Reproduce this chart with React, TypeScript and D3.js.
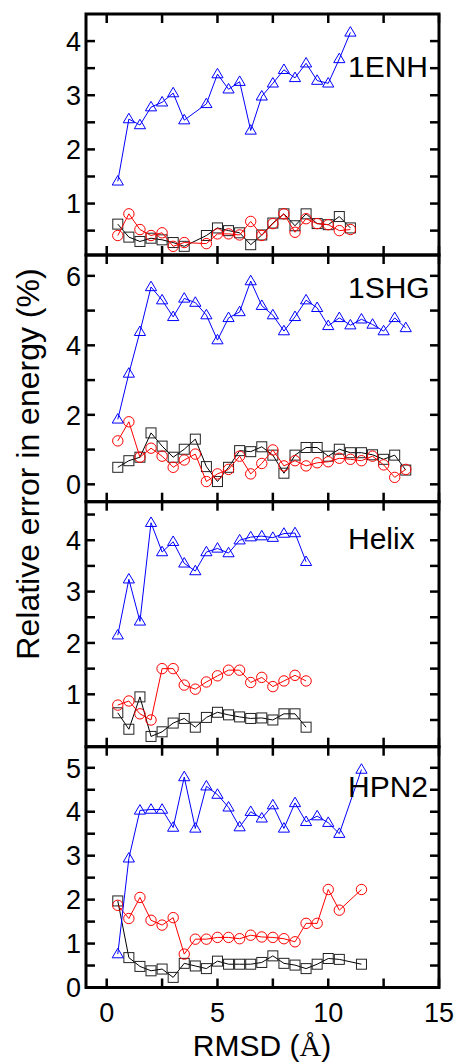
import React from 'react';
import * as d3 from 'd3';

// ---------- DATA ----------
const xTicksMajor = [0, 5, 10, 15];
const xTicksMinor = [2.5, 7.5, 12.5];

// Panel 1: 1ENH
const x1ENH = [0.5, 1, 1.5, 2, 2.5, 3, 3.5, 4.5, 5, 5.5, 6, 6.5, 7, 7.5, 8, 8.5, 9, 9.5, 10, 10.5, 11];
const tri1ENH = [1.41, 2.56, 2.45, 2.78, 2.87, 3.04, 2.54, 2.84, 3.39, 3.11, 3.25, 2.35, 2.98, 3.22, 3.47, 3.32, 3.59, 3.27, 3.22, 3.67, 4.16];
const sq1ENH = [0.62, 0.38, 0.3, 0.36, 0.33, 0.28, 0.21, 0.41, 0.55, 0.5, 0.46, 0.24, 0.42, 0.64, 0.81, 0.59, 0.81, 0.63, 0.61, 0.76, 0.55];
const cir1ENH = [0.41, 0.81, 0.52, 0.41, 0.46, 0.21, 0.28, 0.26, 0.44, 0.44, 0.42, 0.67, 0.41, 0.63, 0.81, 0.47, 0.72, 0.63, 0.61, 0.5, 0.52];

// Panel 2: 1SHG
const x1SHG = [0.5, 1, 1.5, 2, 2.5, 3, 3.5, 4, 4.5, 5, 5.5, 6, 6.5, 7, 7.5, 8, 8.5, 9, 9.5, 10, 10.5, 11, 11.5, 12, 12.5, 13, 13.5];
const tri1SHG = [1.87, 3.19, 4.39, 5.68, 5.3, 4.82, 5.35, 5.23, 4.87, 4.15, 4.79, 4.96, 5.85, 5.14, 4.87, 4.41, 4.82, 5.3, 5.08, 4.56, 4.79, 4.58, 4.75, 4.6, 4.41, 4.79, 4.5];
const sq1SHG = [0.49, 0.68, 0.78, 1.48, 1.1, 0.78, 1.01, 1.3, 0.51, 0.08, 0.49, 0.97, 0.94, 1.08, 0.84, 0.32, 0.84, 1.06, 1.06, 0.81, 1.01, 0.91, 0.91, 0.85, 0.72, 0.84, 0.41];
const cir1SHG = [1.25, 1.8, 0.78, 1.04, 0.81, 0.49, 0.7, 0.87, 0.08, 0.3, 0.43, 0.81, 0.3, 0.6, 0.99, 0.53, 0.68, 0.53, 0.62, 0.65, 0.75, 0.72, 0.68, 0.81, 0.56, 0.2, 0.43];

// Panel 3: Helix
const xHelix = [0.5, 1, 1.5, 2, 2.5, 3, 3.5, 4, 4.5, 5, 5.5, 6, 6.5, 7, 7.5, 8, 8.5, 9];
const triHelix = [2.15, 3.24, 2.42, 4.34, 3.77, 3.97, 3.55, 3.4, 3.77, 3.84, 3.75, 4.0, 4.06, 4.08, 4.05, 4.13, 4.14, 3.58];
const sqHelix = [0.64, 0.32, 0.95, 0.18, 0.27, 0.44, 0.53, 0.36, 0.55, 0.65, 0.6, 0.56, 0.53, 0.54, 0.5, 0.62, 0.62, 0.36];
const cirHelix = [0.79, 0.87, 0.62, 0.5, 1.5, 1.5, 1.18, 1.1, 1.24, 1.36, 1.47, 1.47, 1.23, 1.33, 1.15, 1.26, 1.37, 1.26];

// Panel 4: HPN2
const xHPN2 = [0.5, 1, 1.5, 2, 2.5, 3, 3.5, 4, 4.5, 5, 5.5, 6, 6.5, 7, 7.5, 8, 8.5, 9, 9.5, 10, 10.5, 11.5];
const triHPN2 = [0.76, 2.94, 4.03, 4.05, 4.05, 3.64, 4.79, 3.62, 4.58, 4.39, 4.1, 3.65, 4.0, 3.85, 4.15, 3.62, 4.2, 3.77, 3.9, 3.75, 3.5, 4.96];
const sqHPN2 = [1.97, 0.68, 0.48, 0.38, 0.42, 0.23, 0.55, 0.49, 0.43, 0.6, 0.53, 0.53, 0.53, 0.57, 0.72, 0.55, 0.51, 0.43, 0.53, 0.66, 0.64, 0.53];
const cirHPN2 = [1.87, 1.57, 2.05, 1.53, 1.42, 1.59, 0.76, 1.1, 1.1, 1.14, 1.14, 1.11, 1.19, 1.15, 1.14, 1.11, 1.04, 1.46, 1.46, 2.23, 1.76, 2.23];

// ---------- LAYOUT ----------
const W = 458;
const H = 1063;
const LEFT = 86;
const RIGHT = 439;
const FONT = 'Liberation Sans, Arial, Helvetica, sans-serif';

const panels = [
  { name: '1ENH', top: 14, bottom: 255, domain: [0.05, 4.5], major: [1, 2, 3, 4], minor: [0.5, 1.5, 2.5, 3.5], x: x1ENH, tri: tri1ENH, sq: sq1ENH, cir: cir1ENH, labelY: 77 },
  { name: '1SHG', top: 255, bottom: 501.7, domain: [-0.5, 6.6], major: [0, 2, 4, 6], minor: [1, 3, 5], x: x1SHG, tri: tri1SHG, sq: sq1SHG, cir: cir1SHG, labelY: 298 },
  { name: 'Helix', top: 501.7, bottom: 746.7, domain: [-0.02, 4.75], major: [1, 2, 3, 4], minor: [0.5, 1.5, 2.5, 3.5, 4.5], x: xHelix, tri: triHelix, sq: sqHelix, cir: cirHelix, labelY: 549 },
  { name: 'HPN2', top: 746.7, bottom: 987.5, domain: [0, 5.48], major: [0, 1, 2, 3, 4, 5], minor: [0.5, 1.5, 2.5, 3.5, 4.5], x: xHPN2, tri: triHPN2, sq: sqHPN2, cir: cirHPN2, labelY: 797 },
];

const xScale = d3.scaleLinear().domain([-0.935, 15]).range([LEFT, RIGHT]);
const TICK = 9;

function Panel({ p, isLast }: { p: any; isLast: boolean }) {
  const y = d3.scaleLinear().domain(p.domain).range([p.bottom, p.top]);
  const line = d3.line<number>().x((_, i) => xScale(p.x[i])).y((d) => y(d));
  const yt = [...p.major, ...p.minor];
  const xt = [...xTicksMajor, ...xTicksMinor];
  return (
    <g>
      {/* black squares */}
      <path d={line(p.sq) || ''} fill="none" stroke="#000" strokeWidth={1} />
      {p.sq.map((v: number, i: number) => (
        <rect key={'s' + i} x={xScale(p.x[i]) - 5} y={y(v) - 5} width={10} height={10} fill="none" stroke="#222" strokeWidth={1} />
      ))}
      {/* red circles */}
      <path d={line(p.cir) || ''} fill="none" stroke="#ff0000" strokeWidth={1} />
      {p.cir.map((v: number, i: number) => (
        <circle key={'c' + i} cx={xScale(p.x[i])} cy={y(v)} r={5.2} fill="none" stroke="#ff0000" strokeWidth={1} />
      ))}
      {/* blue triangles */}
      <path d={line(p.tri) || ''} fill="none" stroke="#0000ff" strokeWidth={1} />
      {p.tri.map((v: number, i: number) => {
        const cx = xScale(p.x[i]);
        const cy = y(v);
        return (
          <polygon key={'t' + i} points={`${cx},${cy - 5.8} ${cx + 5.6},${cy + 3.7} ${cx - 5.6},${cy + 3.7}`} fill="none" stroke="#0000ff" strokeWidth={1} />
        );
      })}
      {/* y ticks */}
      {yt.map((t: number) => (
        <g key={'yt' + t}>
          <line x1={LEFT} x2={LEFT + TICK} y1={y(t)} y2={y(t)} stroke="#000" strokeWidth={2.5} />
          <line x1={RIGHT} x2={RIGHT - TICK} y1={y(t)} y2={y(t)} stroke="#000" strokeWidth={2.5} />
        </g>
      ))}
      {p.major.map((t: number) => (
        <text key={'yl' + t} x={81} y={y(t)} dy="0.36em" textAnchor="end" fontSize={27} fontFamily={FONT} fill="#000">
          {t}
        </text>
      ))}
      {/* x ticks */}
      {xt.map((t: number) => (
        <g key={'xt' + t}>
          <line x1={xScale(t)} x2={xScale(t)} y1={p.top} y2={p.top + TICK} stroke="#000" strokeWidth={2.5} />
          <line x1={xScale(t)} x2={xScale(t)} y1={p.bottom} y2={p.bottom - TICK} stroke="#000" strokeWidth={2.5} />
        </g>
      ))}
      {isLast &&
        xTicksMajor.map((t) => (
          <text key={'xl' + t} x={xScale(t)} y={1021.5} textAnchor="middle" fontSize={27} fontFamily={FONT} fill="#000">
            {t}
          </text>
        ))}
      {/* frame */}
      <rect x={LEFT} y={p.top} width={RIGHT - LEFT} height={p.bottom - p.top} fill="none" stroke="#000" strokeWidth={3} />
      <text x={348} y={p.labelY} fontSize={30} fontFamily={FONT} fill="#000">
        {p.name}
      </text>
    </g>
  );
}

export default function App() {
  return (
    <svg width={W} height={H} style={{ position: 'absolute', left: 0, top: 0, background: '#fff' }}>
      <rect x={0} y={0} width={W} height={H} fill="#fff" />
      {panels.map((p, i) => (
        <Panel key={p.name} p={p} isLast={i === panels.length - 1} />
      ))}
      <text transform="translate(39,464) rotate(-90)" textAnchor="middle" fontSize={32} fontFamily={FONT} fill="#000">
        Relative error in energy (%)
      </text>
      <text x={262} y={1056} textAnchor="middle" fontSize={30} fontFamily={FONT} fill="#000">
        RMSD (<tspan fontFamily="Liberation Serif, Times New Roman, serif">Å</tspan>)
      </text>
    </svg>
  );
}
